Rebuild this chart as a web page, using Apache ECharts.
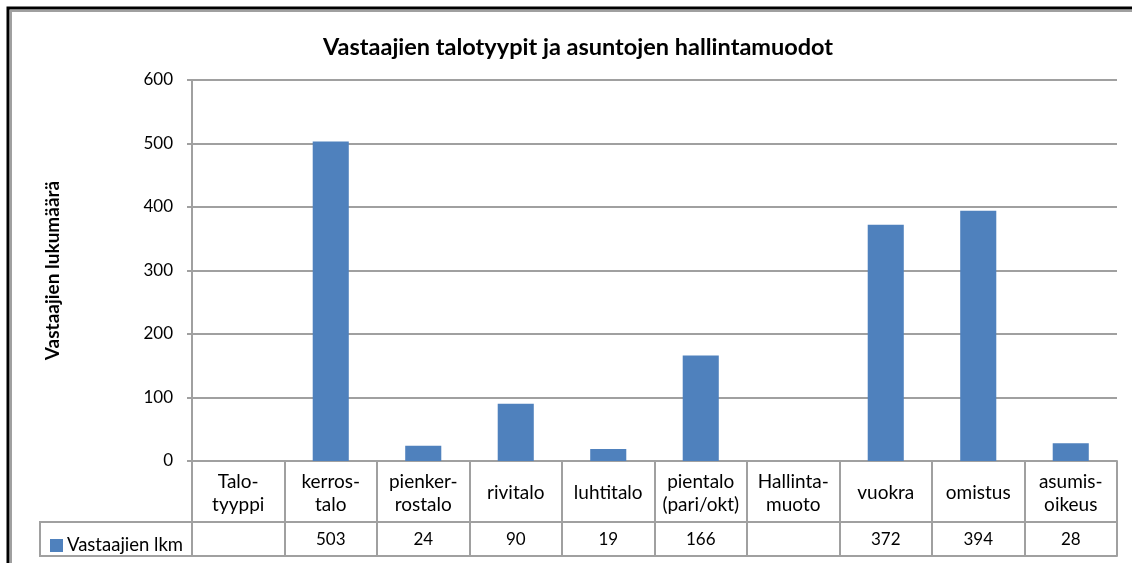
<!DOCTYPE html>
<html>
<head>
<meta charset="utf-8">
<script src="https://cdn.jsdelivr.net/npm/echarts@6/dist/echarts.min.js"></script>
<style>
  html, body { margin: 0; padding: 0; background: #fff; }
  #chart { width: 1132px; height: 563px; }
</style>
</head>
<body>
<div id="chart"></div>
<script>
// category names as they appear in the data table (line breaks kept)
var categories = [
  "Talo-\ntyyppi", "kerros-\ntalo", "pienker-\nrostalo", "rivitalo", "luhtitalo",
  "pientalo\n(pari/okt)", "Hallinta-\nmuoto", "vuokra", "omistus", "asumis-\noikeus"
];
var respondents = [null, 503, 24, 90, 19, 166, null, 372, 394, 28];
var yTicks = [0, 100, 200, 300, 400, 500, 600];

var chartDom = document.getElementById("chart");
var myChart = echarts.init(chartDom);

var gridGrey = "#a0a0a0";
var font = "Lato, 'Noto Sans', sans-serif";

var option = {
  animation: false,
  textStyle: { fontFamily: font },
  title: {
    text: "Vastaajien talotyypit ja asuntojen hallintamuodot",
    left: 318,
    top: 30,
    textStyle: { fontSize: 23.5, fontWeight: "bold", color: "#000", fontFamily: font }
  },
  legend: {
    data: ["Vastaajien lkm"],
    left: 45,
    top: 531,
    itemWidth: 13,
    itemHeight: 13,
    itemGap: 5,
    icon: "rect",
    textStyle: { fontSize: 18.5, color: "#000", padding: [0, 0, 0, -1] }
  },
  grid: {
    left: 192,
    right: 15,
    top: 80,
    bottom: 102
  },
  xAxis: [
    {
      type: "category",
      data: categories,
      position: "bottom",
      axisLine: { lineStyle: { color: gridGrey, width: 2 } },
      axisTick: { show: true, interval: 0, length: 61, lineStyle: { color: gridGrey, width: 2 } },
      axisLabel: {
        interval: 0,
        margin: 32,
        verticalAlign: "middle",
        lineHeight: 23,
        fontSize: 19,
        color: "#000"
      }
    },
    {
      type: "category",
      data: categories,
      position: "bottom",
      offset: 61,
      axisLine: { lineStyle: { color: gridGrey, width: 2 } },
      axisTick: { show: true, interval: 0, length: 34, lineStyle: { color: gridGrey, width: 2 } },
      axisLabel: {
        interval: 0,
        margin: 18,
        verticalAlign: "middle",
        fontSize: 17,
        color: "#000",
        formatter: function (v, i) {
          return respondents[i] == null ? "" : String(respondents[i]);
        }
      }
    },
    {
      type: "category",
      data: categories,
      position: "bottom",
      offset: 95,
      axisLine: { lineStyle: { color: gridGrey, width: 2 } },
      axisTick: { show: false },
      axisLabel: { show: false }
    }
  ],
  yAxis: {
    type: "value",
    min: yTicks[0],
    max: yTicks[yTicks.length - 1],
    interval: 100,
    name: "Vastaajien lukumäärä",
    nameLocation: "middle",
    nameGap: 130,
    nameTextStyle: { fontSize: 19, fontWeight: "bold", color: "#000" },
    axisLine: { show: true, lineStyle: { color: gridGrey, width: 2 } },
    axisTick: { show: true, length: 5, lineStyle: { color: gridGrey, width: 2 } },
    axisLabel: { margin: 19, fontSize: 17, color: "#000" },
    splitLine: { lineStyle: { color: gridGrey, width: 2 } }
  },
  series: [
    {
      name: "Vastaajien lkm",
      type: "bar",
      xAxisIndex: 0,
      barWidth: "39%",
      itemStyle: { color: "#4f81bd" },
      data: respondents
    }
  ],
  graphic: [
    // legend cell of the data table
    {
      type: "rect",
      shape: { x: 40, y: 522, width: 152, height: 34 },
      style: { fill: "none", stroke: gridGrey, lineWidth: 2 },
      z: 1
    },
    // outer frame
    {
      type: "polyline",
      shape: { points: [[8, 563], [8, 8], [1132, 8]] },
      style: { stroke: "#000", lineWidth: 3, fill: "none" }
    },
    {
      type: "polyline",
      shape: { points: [[11, 563], [11, 11], [1132, 11]] },
      style: { stroke: gridGrey, lineWidth: 2, fill: "none" }
    }
  ]
};

myChart.setOption(option);
</script>
</body>
</html>
